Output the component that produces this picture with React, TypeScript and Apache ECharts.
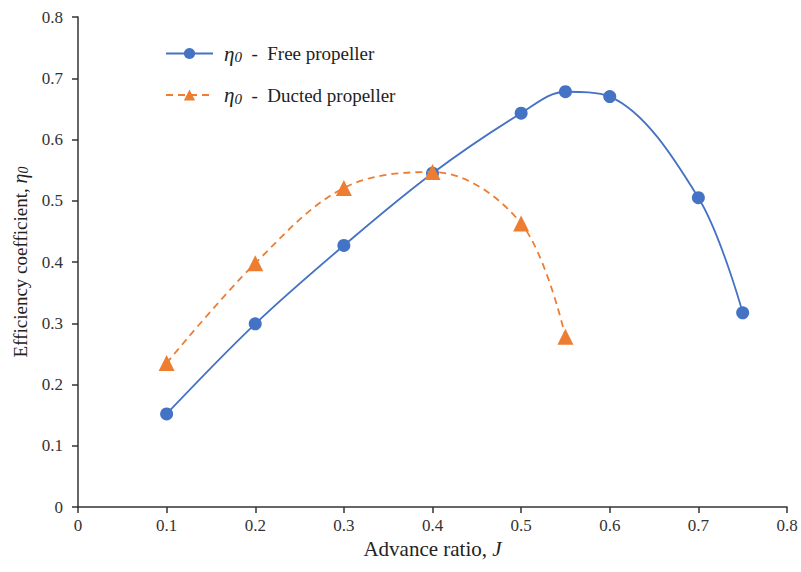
import React, { useEffect, useRef } from "react";
import * as echarts from "echarts";

const freeJ = [0.1, 0.2, 0.3, 0.4, 0.5, 0.55, 0.6, 0.7, 0.75];
const freeEta = [0.152, 0.299, 0.427, 0.545, 0.643, 0.678, 0.670, 0.505, 0.317];
const ductJ = [0.1, 0.2, 0.3, 0.4, 0.5, 0.55];
const ductEta = [0.235, 0.398, 0.521, 0.547, 0.463, 0.278];
const seriesNames = ["Free propeller", "Ducted propeller"];

const FONT = "'Liberation Serif', 'Times New Roman', serif";

export default function App() {
  const ref = useRef<HTMLDivElement>(null);
  useEffect(() => {
    if (!ref.current) return;
    const chart = echarts.init(ref.current, null, { renderer: "svg" });
    const pts = (xs: number[], ys: number[]) => xs.map((x, i) => [x, ys[i]]);
    chart.setOption({
      animation: false,
      backgroundColor: "#ffffff",
      textStyle: { fontFamily: FONT },
      grid: { left: 78, right: 14, top: 17, bottom: 65, containLabel: false, outerBoundsMode: "none" },
      legend: {
        orient: "vertical",
        left: 160,
        top: 38,
        itemGap: 20,
        itemWidth: 47,
        itemHeight: 14,
        data: seriesNames,
        formatter: (name: string) => `{e|η}{s|0}{t|  -  ${name}}`,
        textStyle: {
          fontFamily: FONT,
          color: "#222",
          fontSize: 19,
          padding: [0, 0, 0, 6],
          rich: {
            e: { fontFamily: FONT, fontStyle: "italic", fontSize: 21, color: "#222" },
            s: { fontFamily: FONT, fontStyle: "italic", fontSize: 15, color: "#222", verticalAlign: "bottom", padding: [7, 0, 0, 0] },
            t: { fontFamily: FONT, fontSize: 19, color: "#222" },
          },
        },
      },
      xAxis: {
        type: "value",
        min: 0,
        max: 0.8,
        interval: 0.1,
        name: "{n|Advance ratio, }{i|J}",
        nameLocation: "middle",
        nameGap: 30,
        nameTextStyle: {
          rich: {
            n: { fontFamily: FONT, fontSize: 21, color: "#222" },
            i: { fontFamily: FONT, fontSize: 21, fontStyle: "italic", color: "#222" },
          },
        },
        axisLine: { lineStyle: { color: "#333", width: 1.5 } },
        axisTick: { show: true, inside: false, length: 6, lineStyle: { color: "#333", width: 1.5 } },
        axisLabel: { fontFamily: FONT, fontSize: 17, color: "#333", margin: 10, formatter: (v: number) => (v === 0 ? "0" : v.toFixed(1)) },
        splitLine: { show: false },
      },
      yAxis: {
        type: "value",
        min: 0,
        max: 0.8,
        interval: 0.1,
        name: "{n|Efficiency coefficient, }{i|η}{s|0}",
        nameLocation: "middle",
        nameGap: 47,
        nameRotate: 90,
        nameTextStyle: {
          rich: {
            n: { fontFamily: FONT, fontSize: 19, color: "#222" },
            i: { fontFamily: FONT, fontSize: 20, fontStyle: "italic", color: "#222" },
            s: { fontFamily: FONT, fontSize: 14, fontStyle: "italic", color: "#222", padding: [7, 0, 0, 0] },
          },
        },
        axisLine: { show: true, lineStyle: { color: "#333", width: 1.5 } },
        axisTick: { show: true, inside: false, length: 6, lineStyle: { color: "#333", width: 1.5 } },
        axisLabel: { fontFamily: FONT, fontSize: 17, color: "#333", margin: 15, formatter: (v: number) => (v === 0 ? "0" : v.toFixed(1)) },
        splitLine: { show: false },
      },
      series: [
        {
          name: seriesNames[0],
          type: "line",
          data: pts(freeJ, freeEta),
          smooth: 0.35,
          symbol: "circle",
          symbolSize: 13,
          lineStyle: { color: "#4472C4", width: 1.8 },
          itemStyle: { color: "#4472C4" },
          z: 3,
        },
        {
          name: seriesNames[1],
          type: "line",
          data: pts(ductJ, ductEta),
          smooth: 0.35,
          symbol: "triangle",
          symbolSize: 16,
          lineStyle: { color: "#ED7D31", width: 1.8, type: [7, 5] },
          itemStyle: { color: "#ED7D31" },
          z: 4,
        },
      ],
    });
    return () => chart.dispose();
  }, []);
  return <div ref={ref} style={{ position: "absolute", left: 0, top: 0, width: 801, height: 572 }} />;
}
